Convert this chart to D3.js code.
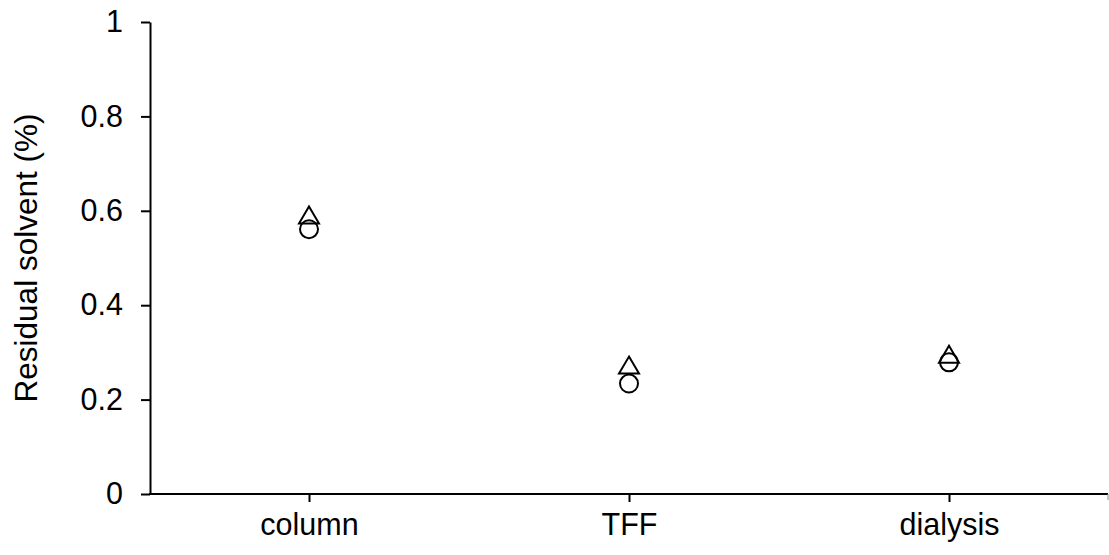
<!DOCTYPE html>
<html>
<head>
<meta charset="utf-8">
<script src="https://cdn.jsdelivr.net/npm/d3@7"></script>
<style>
  html, body { margin: 0; padding: 0; background: #fff; }
  svg { display: block; }
  text { font-family: "Liberation Sans", Arial, sans-serif; fill: #000; }
</style>
</head>
<body>
<svg id="chart" width="1109" height="555"></svg>
<script>
const categories = ["column", "TFF", "dialysis"];
const circleValues = [0.561, 0.234, 0.279];
const triangleValues = [0.59, 0.272, 0.295];
const yTicks = [0, 0.2, 0.4, 0.6, 0.8, 1];
const yTickLabels = ["0", "0.2", "0.4", "0.6", "0.8", "1"];
const yTitle = "Residual solvent (%)";

const svg = d3.select("#chart");
const x = d3.scalePoint().domain(categories).range([149, 1109]).padding(0.5);
const y = d3.scaleLinear().domain([0, 1]).range([494, 22]);
const x0 = 150;

// Y axis
const yAxis = d3.axisLeft(y).tickValues(yTicks)
  .tickFormat((d, i) => yTickLabels[i]).tickSize(9).tickSizeOuter(0).tickPadding(18);
const gy = svg.append("g").attr("transform", `translate(${x0},0)`).call(yAxis);
gy.select(".domain").attr("stroke", "#000").attr("stroke-width", 2);
gy.selectAll(".tick line").attr("stroke", "#000").attr("stroke-width", 2);
gy.selectAll(".tick text").attr("font-size", 30.5).attr("font-family", "Liberation Sans, Arial, sans-serif").attr("fill", "#000");

// X axis
const xAxis = d3.axisBottom(x).tickSize(8).tickSizeOuter(0);
const gx = svg.append("g").attr("transform", `translate(0,${y(0)})`).call(xAxis);
gx.select(".domain").remove();
gx.append("line").attr("x1", x0 - 1).attr("x2", 1108).attr("y1", 0).attr("y2", 0)
  .attr("stroke", "#000").attr("stroke-width", 2);
gx.append("line").attr("x1", 1108).attr("x2", 1108).attr("y1", 0).attr("y2", 6)
  .attr("stroke", "#888").attr("stroke-width", 1);
gx.selectAll(".tick line").attr("stroke", "#000").attr("stroke-width", 2);
gx.selectAll(".tick text").attr("font-size", 30.5).attr("font-family", "Liberation Sans, Arial, sans-serif")
  .attr("fill", "#000").attr("y", 41).attr("dy", 0);

// Y title
svg.append("text")
  .attr("transform", `translate(37,${(y(0) + y(1)) / 2}) rotate(-90)`)
  .attr("text-anchor", "middle").attr("font-size", 31.5).text(yTitle);

// Circles
svg.append("g").selectAll("circle").data(categories).join("circle")
  .attr("cx", d => x(d)).attr("cy", (d, i) => y(circleValues[i])).attr("r", 9)
  .attr("fill", "none").attr("stroke", "#000").attr("stroke-width", 2);

// Triangles
const tri = (cx, cy) => `M${cx},${cy - 9}L${cx + 10},${cy + 8}L${cx - 10},${cy + 8}Z`;
svg.append("g").selectAll("path").data(categories).join("path")
  .attr("d", (d, i) => tri(x(d), y(triangleValues[i])))
  .attr("fill", "none").attr("stroke", "#000").attr("stroke-width", 2).attr("stroke-linejoin", "miter");
</script>
</body>
</html>
